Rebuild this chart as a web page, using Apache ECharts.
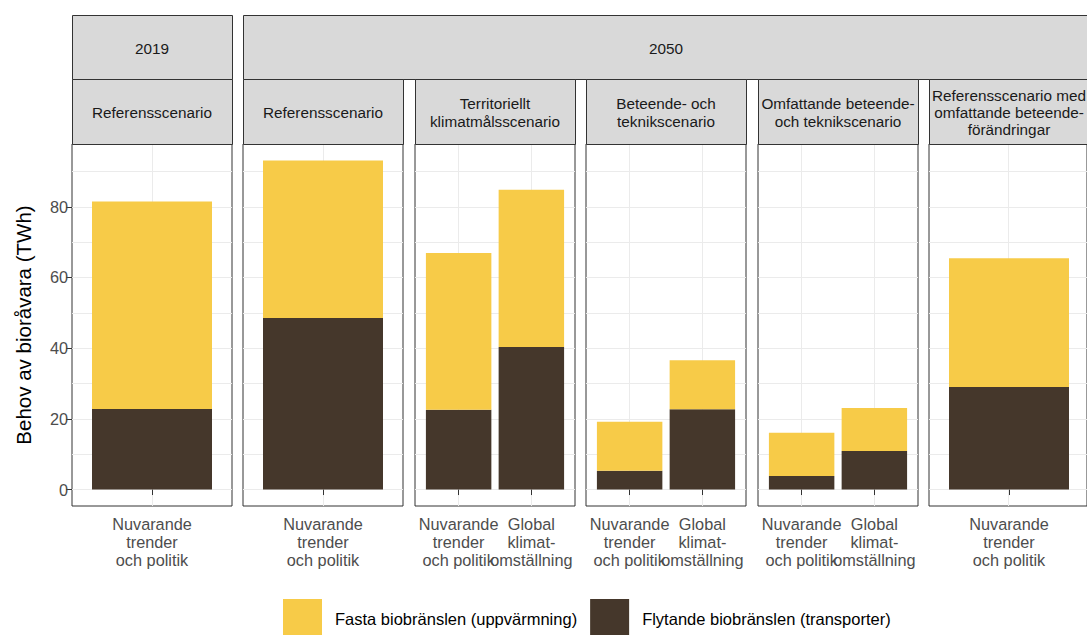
<!DOCTYPE html>
<html><head><meta charset="utf-8">
<script src="https://cdn.jsdelivr.net/npm/echarts@6/dist/echarts.min.js"></script>
<style>html,body{margin:0;padding:0;background:#fff}#c{width:1087px;height:635px}</style>
</head><body><div id="c"></div>
<script>
const years = ['2019', '2050', '2050', '2050', '2050', '2050'];
const scenarios = [
  'Referensscenario',
  'Referensscenario',
  'Territoriellt\nklimatmålsscenario',
  'Beteende- och\nteknikscenario',
  'Omfattande beteende-\noch teknikscenario',
  'Referensscenario med\nomfattande beteende-\nförändringar'
];
const NT = 'Nuvarande\ntrender\noch politik';
const GK = 'Global\nklimat-\nomställning';
const pathways = [[NT], [NT], [NT, GK], [NT, GK], [NT, GK], [NT]];
const fasta = [[58.7], [44.6], [44.3, 44.5], [13.9, 13.9], [12.3, 12.2], [36.4]];
const flytande = [[22.8], [48.5], [22.6, 40.3], [5.3, 22.7], [3.8, 10.9], [29.0]];
const seriesNames = ['Fasta biobränslen (uppvärmning)', 'Flytande biobränslen (transporter)'];
const yTicks = [0, 20, 40, 60, 80];
const yGridValues = [0, 10, 20, 30, 40, 50, 60, 70, 80, 90];
const yTitle = 'Behov av bioråvara (TWh)';

const FONT = 'Liberation Sans, Arial, Helvetica, sans-serif';
const colFasta = '#F7CB48', colFlyt = '#45372B';
const L = [72, 243, 415, 586, 758, 929];
const PW = 160, PT = 144, PH = 362;
const NP = pathways.length;

const totals = fasta.flatMap((a, i) => a.map((v, j) => v + flytande[i][j]));
const ymax = Math.max(...totals);
const pad = ymax * 0.05;

const grids = [], xAxes = [], yAxes = [], series = [];
// outer grids: panel frame + grid lines
pathways.forEach((cats, i) => {
  const n = cats.length;
  const idx = cats.map((c, j) => j + 1);
  grids.push({left: L[i], top: PT, width: PW, height: PH, show: true,
    borderColor: '#333333', borderWidth: 1, backgroundColor: 'transparent'});
  xAxes.push({type: 'value', gridIndex: i, min: 0.4, max: n + 0.6,
    axisLine: {show: false}, axisLabel: {show: false},
    axisTick: {show: false, customValues: idx},
    splitLine: {show: true, lineStyle: {color: '#ebebeb', width: 1}}});
  yAxes.push({type: 'value', gridIndex: i, min: -pad, max: ymax + pad, position: 'left',
    axisLine: {show: false}, axisLabel: {show: false},
    axisTick: {show: false, customValues: yGridValues},
    splitLine: {show: true, lineStyle: {color: '#ebebeb', width: 1}}});
});
// inner grids: bars on category axes
pathways.forEach((cats, i) => {
  const n = cats.length;
  const inset = 0.1 * PW / (n + 0.2);
  const g = NP + i;
  grids.push({left: L[i] + inset, top: PT, width: PW - 2 * inset, height: PH, show: false});
  xAxes.push({type: 'category', gridIndex: g, data: cats, boundaryGap: true,
    axisLine: {show: false},
    axisTick: {show: true, alignWithLabel: true, length: 5.5, lineStyle: {color: '#333333'}},
    axisLabel: {interval: 0, color: '#4d4d4d', fontSize: 16.3, lineHeight: 18, margin: 9, fontFamily: FONT},
    splitLine: {show: false}});
  yAxes.push({type: 'value', gridIndex: g, min: -pad, max: ymax + pad, position: 'left',
    axisLine: {show: false}, axisLabel: {show: false}, axisTick: {show: false},
    splitLine: {show: false}});
  series.push({type: 'bar', name: seriesNames[1], xAxisIndex: g, yAxisIndex: g, stack: 's' + i,
    barWidth: '90%', itemStyle: {color: colFlyt}, data: flytande[i]});
  series.push({type: 'bar', name: seriesNames[0], xAxisIndex: g, yAxisIndex: g, stack: 's' + i,
    barWidth: '90%', itemStyle: {color: colFasta}, data: fasta[i]});
});
// y tick labels + title on first panel
yAxes.push({type: 'value', gridIndex: 0, min: -pad, max: ymax + pad, position: 'left', offset: 0,
  axisLine: {show: false},
  axisTick: {show: true, length: 6, lineStyle: {color: '#333333'}, customValues: yTicks},
  axisLabel: {customValues: yTicks, color: '#4d4d4d', fontSize: 16.3, margin: 4, fontFamily: FONT},
  splitLine: {show: false},
  name: yTitle, nameLocation: 'middle', nameGap: 38,
  nameTextStyle: {fontSize: 20.5, color: '#000', fontFamily: FONT}});

// strips
const graphics = [];
function strip(x, y, w, h, text) {
  graphics.push({type: 'rect', silent: true, shape: {x: x + 0.5, y: y + 0.5, width: w, height: h},
    style: {fill: '#d9d9d9', stroke: '#333333', lineWidth: 1}, z: 10});
  graphics.push({type: 'text', silent: true, z: 11,
    style: {text: text, x: x + w / 2, y: y + h / 2 + 1, align: 'center', verticalAlign: 'middle',
      fontSize: 15.3, lineHeight: 17.4, fontFamily: FONT, fill: '#1a1a1a'}});
}
let s = 0;
while (s < years.length) {
  let e = s;
  while (e + 1 < years.length && years[e + 1] === years[s]) e++;
  strip(L[s], 15, L[e] + PW - L[s], 64, years[s]);
  s = e + 1;
}
scenarios.forEach((t, i) => strip(L[i], 79, PW, 65, t));

const chart = echarts.init(document.getElementById('c'), null, {renderer: 'svg'});
chart.setOption({
  animation: false,
  backgroundColor: '#ffffff',
  textStyle: {fontFamily: FONT},
  grid: grids, xAxis: xAxes, yAxis: yAxes, series: series,
  legend: {data: seriesNames, left: 283, top: 599, padding: 0, itemWidth: 39, itemHeight: 39,
    itemGap: 13, icon: 'rect', selectedMode: false,
    textStyle: {fontSize: 16.5, color: '#000', padding: [0, 0, 0, 8], fontFamily: FONT}},
  graphic: graphics
});
</script></body></html>
